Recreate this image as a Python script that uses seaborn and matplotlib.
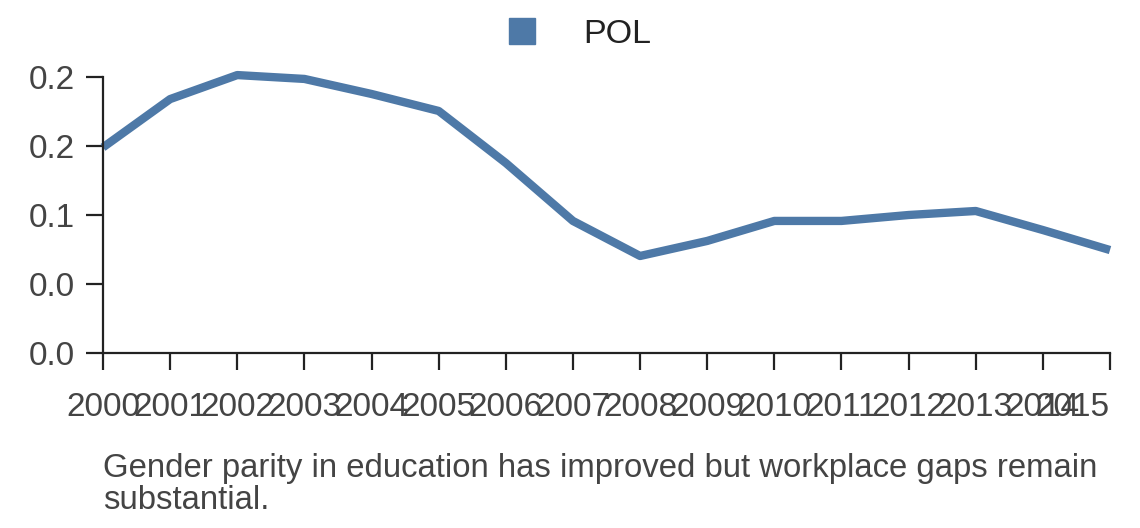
"""Line chart: gender gap indicator for POL, 2000-2015"""

import textwrap

import matplotlib
matplotlib.use('Agg')
import matplotlib.pyplot as plt
import seaborn as sns
import pandas as pd

# data
years = list(range(2000, 2016))
pol_values = [0.149, 0.184, 0.2014, 0.1986, 0.1877, 0.1754, 0.1377, 0.0957,
              0.0703, 0.0812, 0.0957, 0.0957, 0.100, 0.1029, 0.0891, 0.0746]
country = 'POL'
y_ticks = [0.0, 0.05, 0.10, 0.15, 0.20]
y_tick_labels = ['0.0', '0.0', '0.1', '0.2', '0.2']
caption = ('Gender parity in education has improved but workplace gaps '
           'remain substantial.')

LINE_COLOR = '#4e79a7'
AXIS_COLOR = '#222222'
TEXT_COLOR = '#444444'

sns.set_style('ticks')
plt.rcParams['font.family'] = ['Liberation Sans', 'DejaVu Sans']

df = pd.DataFrame({'year': years, 'value': pol_values, 'country': country})

fig = plt.figure(figsize=(11.4, 5.28), dpi=100)
ax = fig.add_axes([103 / 1140, 1 - 353 / 528, 1007 / 1140, 276 / 528])

sns.lineplot(data=df, x='year', y='value', color=LINE_COLOR, linewidth=6,
             ax=ax, legend=False, clip_on=False)
ax.lines[0].set_solid_capstyle('butt')

ax.set_xlim(years[0], years[-1])
ax.set_ylim(y_ticks[0], y_ticks[-1])
ax.set_xticks(years)
ax.set_xticklabels([str(y) for y in years])
ax.set_yticks(y_ticks)
ax.set_yticklabels(y_tick_labels)
# last label is end-anchored, as in the source
ax.get_xticklabels()[-1].set_horizontalalignment('right')
ax.set_xlabel('')
ax.set_ylabel('')

for side in ('top', 'right'):
    ax.spines[side].set_visible(False)
for side in ('left', 'bottom'):
    ax.spines[side].set_color(AXIS_COLOR)
    ax.spines[side].set_linewidth(1.6)
ax.tick_params(axis='both', length=12, width=1.6, color=AXIS_COLOR,
               labelcolor=TEXT_COLOR, labelsize=24)
ax.tick_params(axis='y', pad=8)
ax.tick_params(axis='x', pad=16)

handle = plt.Line2D([], [], marker='s', linestyle='none', markersize=19,
                    markerfacecolor=LINE_COLOR, markeredgecolor=LINE_COLOR)
fig.legend([handle], [country], loc='upper center', bbox_to_anchor=(0.5, 1.0),
           frameon=False, fontsize=24.5, handletextpad=0.8,
           labelcolor=AXIS_COLOR, borderaxespad=0.15)

fig.text(103 / 1140, 1 - 453 / 528, textwrap.fill(caption, 66), ha='left',
         va='top', fontsize=23.7, color=TEXT_COLOR, linespacing=1.05)

fig.savefig('out.png', dpi=100)
